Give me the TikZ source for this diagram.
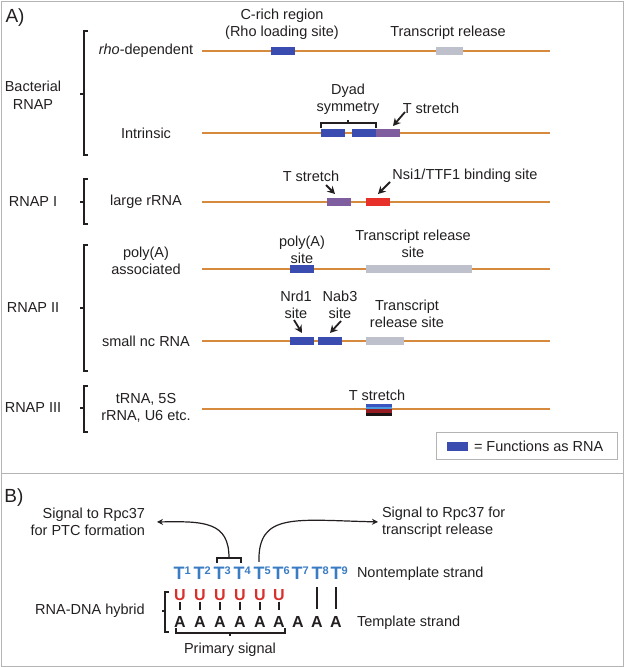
\documentclass[tikz,border=0pt]{standalone}
\usepackage{fontspec}
\setmainfont{Liberation Sans}
\usetikzlibrary{arrows.meta}
\definecolor{trk}{HTML}{D68A3E}
\definecolor{rnablue}{HTML}{3B4CB0}
\definecolor{relgrey}{HTML}{BEC1CB}
\definecolor{tpurple}{HTML}{7E5E9E}
\definecolor{nsired}{HTML}{E8302A}
\definecolor{tblue}{HTML}{3A7CC4}
\definecolor{ured}{HTML}{D8302B}
\definecolor{txt}{HTML}{231F20}
\definecolor{frame}{HTML}{B4B4B4}
\definecolor{tsA}{HTML}{3B55C0}
\definecolor{tsB}{HTML}{4A9AE0}
\definecolor{tsC}{HTML}{961C24}
\definecolor{tsD}{HTML}{1A1414}
\begin{document}
\begin{tikzpicture}[x=1pt,y=-1pt,
  every node/.style={font=\fontsize{14.5}{17.5}\selectfont, inner sep=0pt, outer sep=0pt, text=txt},
  lbl/.style={align=center},
  track/.style={draw=trk, line width=2.2pt},
  seg/.style={rectangle, minimum height=8.5pt, minimum width=#1, inner sep=0pt},
  seg/.default=24pt,
  brk/.style={draw=txt, line width=1.6pt},
  pt/.style={-{Stealth[length=7.5pt,width=8pt]}, line width=1.8pt, draw=txt},
  sigarrow/.style={-{Stealth[length=6pt,width=6pt]}, line width=1.2pt, draw=txt},
  tb/.style={font=\fontsize{18}{18}\selectfont\bfseries, text=tblue},
  tsup/.style={font=\fontsize{11}{11}\selectfont\bfseries, text=tblue, inner sep=0.2pt},
  ub/.style={font=\fontsize{16}{16}\selectfont\bfseries, text=ured},
  ab/.style={font=\fontsize{16}{16}\selectfont\bfseries, text=txt},
  pair/.style={draw=txt, line width=1.7pt}
]
\useasboundingbox (0,0) rectangle (624,667);
% frame
\draw[frame, line width=1pt] (1,1) rectangle (623,666);
\draw[frame, line width=1pt] (1,473) -- (623,473);

% ---------------- Part A ----------------
\node (labA) at (15,18) {\fontsize{19}{19}\selectfont A)};

% brackets
\draw[brk] (88,31) -- (84,31) -- (84,155) -- (88,155);
\draw[brk] (84,94) -- (80,94);
\draw[brk] (88,179) -- (84,179) -- (84,224) -- (88,224);
\draw[brk] (84,202) -- (80,202);
\draw[brk] (88,245) -- (84,245) -- (84,371) -- (88,371);
\draw[brk] (84,308) -- (80,308);
\draw[brk] (88,386) -- (84,386) -- (84,432) -- (88,432);
\draw[brk] (84,408) -- (80,408);

% group labels
\node[lbl] (bact) at (33,95) {Bacterial\\RNAP};
\node (pol1) at (33,202) {RNAP I};
\node (pol2) at (33,308) {RNAP II};
\node (pol3) at (33,408) {RNAP III};

% row labels
\node (rho) at (146,51) {\textit{rho}-dependent};
\node (intr) at (146,133) {Intrinsic};
\node (lrrna) at (146,202) {large rRNA};
\node[lbl] (polya) at (146,261) {poly(A)\\associated};
\node (sncrna) at (146,341) {small nc RNA};
\node[lbl] (trna) at (146,408) {tRNA, 5S\\rRNA, U6 etc.};

% tracks
\coordinate (r1s) at (202,51);  \coordinate (r1e) at (550,51);
\coordinate (r2s) at (202,133); \coordinate (r2e) at (550,133);
\coordinate (r3s) at (202,202); \coordinate (r3e) at (550,202);
\coordinate (r4s) at (202,269); \coordinate (r4e) at (550,269);
\coordinate (r5s) at (202,341); \coordinate (r5e) at (550,341);
\coordinate (r6s) at (202,409); \coordinate (r6e) at (550,409);
\draw[track] (r1s) -- (r1e);
\draw[track] (r2s) -- (r2e);
\draw[track] (r3s) -- (r3e);
\draw[track] (r4s) -- (r4e);
\draw[track] (r5s) -- (r5e);
\draw[track] (r6s) -- (r6e);

% rho-dependent
\node[seg=24pt, fill=rnablue] (crich) at (283,51) {};
\node[seg=27pt, fill=relgrey] (rel1) at (449.5,51) {};
\node[lbl] (crichlbl) at (282,24) {C-rich region\\(Rho loading site)};
\node (rel1lbl) at (448,33) {Transcript release};

% intrinsic
\node[seg=24pt, fill=rnablue] (dy1) at (333,133) {};
\node[seg=24pt, fill=rnablue] (dy2) at (364,133) {};
\node[seg=24pt, fill=tpurple] (ts1) at (388,133) {};
\draw[brk, line width=1.4pt] (321,128) -- (321,123) -- (376,123) -- (376,128);
\draw[brk, line width=1.4pt] (348,123) -- (348,120);
\node[lbl] (dyad) at (348,99) {Dyad\\symmetry};
\node (ts1lbl) at (431,108) {T stretch};
\coordinate (ts1a) at (405,112);
\draw[pt] (ts1a) -- (393,126);

% RNAP I
\node[seg=24pt, fill=tpurple] (ts2) at (339,202) {};
\node[seg=24pt, fill=nsired] (nsi) at (378,202) {};
\node (ts2lbl) at (311,176) {T stretch};
\node (nsilbl) at (465,176) {Nsi1/TTF1 binding site};
\coordinate (ts2a) at (326,185);
\coordinate (nsia) at (390,182);
\draw[pt] (ts2a) -- (335,194);
\draw[pt] (nsia) -- (378,194);

% poly(A)
\node[seg=24pt, fill=rnablue] (pas) at (302,269) {};
\node[seg=106pt, fill=relgrey] (rel2) at (419,269) {};
\node[lbl] (paslbl) at (302,250) {poly(A)\\site};
\node[lbl] (rel2lbl) at (413,244) {Transcript release\\site};

% small nc RNA
\node[seg=24pt, fill=rnablue] (nrd) at (302,341) {};
\node[seg=24pt, fill=rnablue] (nab) at (330,341) {};
\node[seg=38pt, fill=relgrey] (rel3) at (385,341) {};
\node[lbl] (nrdlbl) at (296,305) {Nrd1\\site};
\node[lbl] (nablbl) at (340,305) {Nab3\\site};
\node[lbl] (rel3lbl) at (407,314) {Transcript\\release site};
\coordinate (nrda) at (294,320);
\coordinate (naba) at (341,321);
\draw[pt] (nrda) -- (302,333);
\draw[pt] (naba) -- (330,333);

% RNAP III T stretch
\node[rectangle, minimum width=26pt, minimum height=12pt] (ts3) at (379,410) {};
\fill[tsA] (366,404) rectangle (392,406.7);
\fill[tsB] (366,406.5) rectangle (392,409.2);
\fill[tsC] (366,409) rectangle (392,412.7);
\fill[tsD] (366,412.5) rectangle (392,416);
\node (ts3lbl) at (377,395) {T stretch};

% legend
\node[draw=frame, line width=1pt, minimum width=181pt, minimum height=27pt] (legend) at (526.5,445.5) {};
\node[seg=21pt, minimum height=9pt, fill=rnablue] (legsw) at (457.5,446.5) {};
\node[anchor=west] (legtxt) at (474,446) {= Functions as RNA};

% ---------------- Part B ----------------
\node (labB) at (14,498) {\fontsize{19}{19}\selectfont B)};

\node[align=right, anchor=east] (sigL) at (145,522) {Signal to Rpc37\\for PTC formation};
\node[align=left, anchor=west] (sigR) at (382,522) {Signal to Rpc37 for\\transcript release};
\node[anchor=west] (nontmp) at (357,574) {Nontemplate strand};
\node[anchor=west] (tmp) at (357,623) {Template strand};
\node (hyb) at (90,611) {RNA-DNA hybrid};
\node (prim) at (230,650) {Primary signal};

% T row
\foreach \i/\x in {1/179,2/199,3/219,4/239,5/259,6/278,7/297,8/317,9/336}{
  \node[tb, label={[tsup, anchor=north west]north east:\i}] (t\i) at (\x,573) {T};
}
\foreach \i/\x in {1/180,2/200,3/220,4/240,5/260,6/279,7/298,8/317,9/336}{
  \node[ab] (a\i) at (\x,622) {A};
}
\foreach \i/\x in {1/180,2/200,3/220,4/240,5/260,6/279}{
  \node[ub] (u\i) at (\x,595) {U};
  \draw[pair, shorten <=1pt, shorten >=7pt] (u\i.south) -- (a\i.north);
}
\draw[pair, shorten <=8pt, shorten >=8pt] (t8.south) -- (a8.north);
\draw[pair, shorten <=8pt, shorten >=8pt] (t9.south) -- (a9.north);

% hybrid bracket
\draw[brk, line width=1.4pt] (169,592) -- (165,592) -- (165,632) -- (169,632);
\draw[brk, line width=1.4pt] (165,611) -- (162,611);

% primary signal brace
\draw[brk, line width=1.4pt] (176,628) -- (176,633) -- (285,633) -- (285,628);
\draw[brk, line width=1.4pt] (230,633) -- (230,636);

% T3-T4 bracket and signals
\coordinate (br34) at (229,558);
\draw[brk, line width=1.3pt] (217,563) -- (217,558) -- (241,558) -- (241,563);
\draw[sigarrow] (br34) .. controls (229,522) and (205,521) .. ([xshift=12pt]sigL.east);
\draw[sigarrow, shorten <=5pt, shorten >=4pt] (t5.north) .. controls (258,512) and (295,520) .. (sigR.west);
\end{tikzpicture}
\end{document}
